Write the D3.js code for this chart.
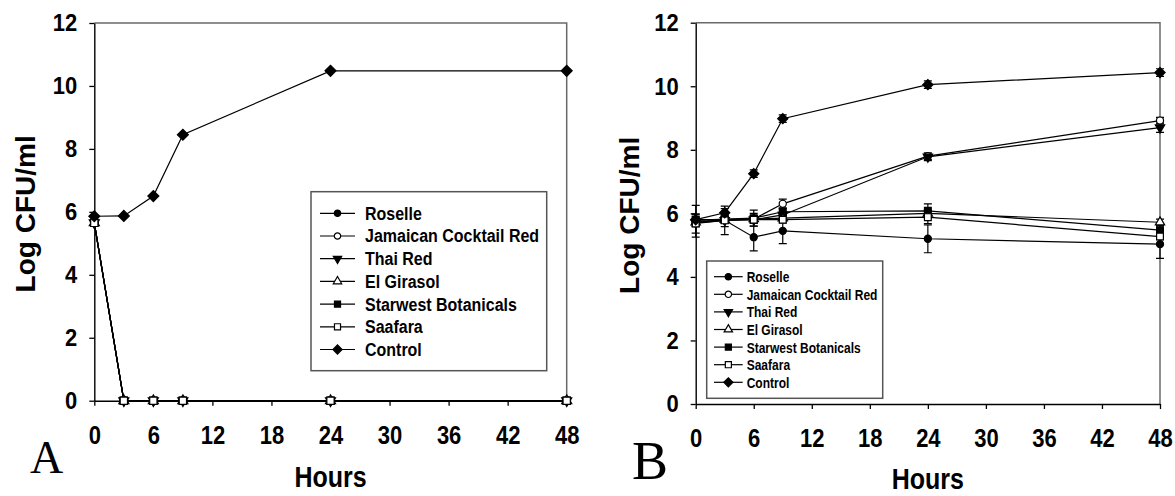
<!DOCTYPE html>
<html><head><meta charset="utf-8">
<script src="https://cdn.jsdelivr.net/npm/d3@7"></script>
<style>
body{margin:0;background:#fff;}
svg text{font-family:"Liberation Sans",Arial,sans-serif;font-weight:bold;fill:#000;}
</style></head><body>
<svg id="c" width="1175" height="496"></svg>
<script>
// ---- data ----
const hours = [0, 3, 6, 9, 24, 48];
const seriesNames = ["Roselle", "Jamaican Cocktail Red", "Thai Red", "El Girasol", "Starwest Botanicals", "Saafara", "Control"];
const xTicks = [0, 6, 12, 18, 24, 30, 36, 42, 48];
const yTicks = [0, 2, 4, 6, 8, 10, 12];

// Panel A values
const aRoselle   = [5.65, 0, 0, 0, 0, 0];
const aJamaican  = [5.65, 0, 0, 0, 0, 0];
const aThai      = [5.65, 0, 0, 0, 0, 0];
const aGirasol   = [5.65, 0, 0, 0, 0, 0];
const aStarwest  = [5.65, 0, 0, 0, 0, 0];
const aSaafara   = [5.65, 0, 0, 0, 0, 0];
const aControl   = [5.86, 5.87, 6.5, 8.45, 10.48, 10.48];

// Panel B values and error (SD)
const bRoselle   = [5.75, 5.78, 5.25, 5.45, 5.2, 5.03];
const bJamaican  = [5.8, 5.8, 5.82, 6.3, 7.8, 8.92];
const bThai      = [5.7, 5.78, 5.8, 5.95, 7.78, 8.7];
const bGirasol   = [5.72, 5.8, 5.82, 5.85, 6.0, 5.72];
const bStarwest  = [5.78, 5.82, 5.85, 6.05, 6.08, 5.47];
const bSaafara   = [5.68, 5.78, 5.8, 5.8, 5.88, 5.27];
const bControl   = [5.8, 6.02, 7.25, 8.98, 10.05, 10.43];

const eRoselle   = [0.5, 0.45, 0.43, 0.4, 0.44, 0.45];
const eJamaican  = [0.1, 0.1, 0.1, 0.15, 0.1, 0.1];
const eThai      = [0.1, 0.1, 0.1, 0.1, 0.12, 0.15];
const eGirasol   = [0.1, 0.1, 0.1, 0.1, 0.1, 0.1];
const eStarwest  = [0.2, 0.1, 0.25, 0.12, 0.22, 0.1];
const eSaafara   = [0.3, 0.2, 0.2, 0.1, 0.2, 0.1];
const eControl   = [0.15, 0.13, 0.12, 0.12, 0.12, 0.12];

const panelAData = [aRoselle, aJamaican, aThai, aGirasol, aStarwest, aSaafara, aControl];
const panelBData = [bRoselle, bJamaican, bThai, bGirasol, bStarwest, bSaafara, bControl];
const panelBErr  = [eRoselle, eJamaican, eThai, eGirasol, eStarwest, eSaafara, eControl];

// marker styles
const markers = [
  {t: d3.symbolCircle, f: true, r: 0, s: 40},
  {t: d3.symbolCircle, f: false, r: 0, s: 40},
  {t: d3.symbolTriangle, f: true, r: 180, s: 38},
  {t: d3.symbolTriangle, f: false, r: 0, s: 38},
  {t: d3.symbolSquare, f: true, r: 0, s: 46},
  {t: d3.symbolSquare, f: false, r: 0, s: 46},
  {t: d3.symbolSquare, f: true, r: 45, s: 52}
];

const svg = d3.select("#c");

function drawMarker(g, x, y, i, scale) {
  const m = markers[i];
  g.append("path")
    .attr("d", d3.symbol().type(m.t).size(m.s * (scale || 1))())
    .attr("transform", `translate(${x},${y}) rotate(${m.r})`)
    .attr("fill", m.f ? "#000" : "#fff")
    .attr("stroke", "#000").attr("stroke-width", 1.2);
}

function stext(g, x, y, str, size, sy, anchor) {
  return g.append("text")
    .attr("transform", `translate(${x},${y}) scale(1,${sy})`)
    .attr("text-anchor", anchor || "start")
    .style("font-size", size + "px")
    .text(str);
}

function panel(cfg) {
  const x = d3.scaleLinear().domain([0, 48]).range([cfg.x0, cfg.x1]);
  const y = d3.scaleLinear().domain([0, 12]).range([cfg.y0, cfg.y1]);
  const g = svg.append("g");

  g.append("path")
    .attr("d", `M${cfg.x0},${cfg.y1}H${cfg.x1}V${cfg.y0}`)
    .attr("fill", "none").attr("stroke", "#6a6a6a").attr("stroke-width", 1.5);

  const xa = g.append("g").attr("transform", `translate(0,${cfg.y0})`)
    .call(d3.axisBottom(x).tickValues(xTicks).tickSize(5).tickPadding(17).tickSizeOuter(0));
  const ya = g.append("g").attr("transform", `translate(${cfg.x0},0)`)
    .call(d3.axisLeft(y).tickValues(yTicks).tickSize(5).tickPadding(12).tickSizeOuter(0));
  [xa, ya].forEach(a => {
    a.selectAll("path.domain").attr("stroke", "#000").attr("stroke-width", 1.4);
    a.selectAll(".tick line").attr("stroke", "#000").attr("stroke-width", 1.3);
    a.selectAll(".tick text").style("font-size", "22px").style("font-family", "'Liberation Sans',Arial,sans-serif")
      .style("font-weight", "bold").attr("fill", "#000");
  });
  xa.selectAll(".tick text").attr("transform", "scale(1,1.15)");
  ya.selectAll(".tick text").attr("transform", "scale(1,1.12)");

  const line = d3.line().x((d, i) => x(hours[i])).y(d => y(d));
  cfg.data.forEach((s, k) => {
    g.append("path").attr("d", line(s)).attr("fill", "none")
      .attr("stroke", "#000").attr("stroke-width", 1.2);
  });
  if (cfg.err) {
    cfg.data.forEach((s, k) => {
      s.forEach((v, i) => {
        const e = cfg.err[k][i];
        const xx = x(hours[i]);
        g.append("path")
          .attr("d", `M${xx},${y(v - e)}V${y(v + e)}M${xx - 4},${y(v - e)}H${xx + 4}M${xx - 4},${y(v + e)}H${xx + 4}`)
          .attr("stroke", "#000").attr("stroke-width", 1.2).attr("fill", "none");
      });
    });
  }
  cfg.data.forEach((s, k) => {
    s.forEach((v, i) => drawMarker(g, x(hours[i]), y(v), k, cfg.ms));
  });

  const L = cfg.leg;
  g.append("rect").attr("x", L.x).attr("y", L.y).attr("width", L.w).attr("height", L.h)
    .attr("fill", "#fff").attr("stroke", "#555").attr("stroke-width", 1.5);
  seriesNames.forEach((n, i) => {
    const yy = L.ey + i * L.dy;
    g.append("line").attr("x1", L.lx0).attr("x2", L.lx1).attr("y1", yy).attr("y2", yy)
      .attr("stroke", "#000").attr("stroke-width", 1.2);
    drawMarker(g, (L.lx0 + L.lx1) / 2, yy, i, L.ms);
    stext(g, L.tx, yy + L.fs * 0.36 * L.sy, n, L.fs, L.sy);
  });

  g.append("text")
    .attr("transform", `translate(${cfg.ylx},${(cfg.y0 + cfg.y1) / 2 + 2}) rotate(-90)`)
    .attr("text-anchor", "middle").style("font-size", "28px").text("Log CFU/ml");
  stext(g, (cfg.x0 + cfg.x1) / 2, cfg.hy, "Hours", 25, 1.2, "middle");

  g.append("text").attr("x", cfg.lbx).attr("y", cfg.lby)
    .style("font-family", "'Liberation Serif','Times New Roman',serif")
    .style("font-weight", "normal").style("font-size", cfg.lbs + "px").text(cfg.label);
}

panel({
  x0: 94.3, x1: 566.7, y0: 400.7, y1: 23, data: panelAData, err: null, ms: 1.15,
  leg: {x: 311, y: 191.7, w: 235.7, h: 179, ey: 213.3, dy: 22.7, lx0: 320, lx1: 355, tx: 365, fs: 16, sy: 1.12, ms: 0.8},
  ylx: 35, hy: 487, label: "A", lbx: 30, lby: 473, lbs: 46
});
panel({
  x0: 695.7, x1: 1160, y0: 404, y1: 22.7, data: panelBData, err: panelBErr, ms: 1.0,
  leg: {x: 706.7, y: 261, w: 176, h: 137.3, ey: 276.7, dy: 17.6, lx0: 714, lx1: 742.7, tx: 746.7, fs: 12, sy: 1.25, ms: 0.8},
  ylx: 639, hy: 488.5, label: "B", lbx: 632, lby: 479, lbs: 54
});
</script>
</body></html>
